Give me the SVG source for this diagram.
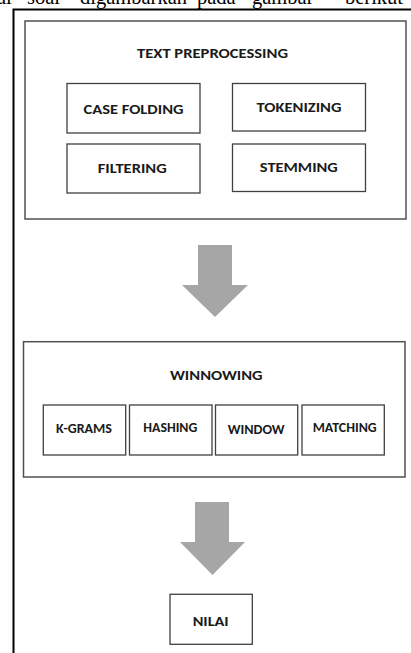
<svg xmlns="http://www.w3.org/2000/svg" width="411" height="653" viewBox="0 0 411 653">
<style>
.page{font-family:"Liberation Serif","Times New Roman",serif;font-size:20.5px;fill:#000}
.box{fill:#fff;stroke:#404040;stroke-width:1.3}
.group{fill:#fff;stroke:#505050;stroke-width:1.5}
.lbl{font-family:Carlito,"Open Sans","Liberation Sans",sans-serif;font-weight:bold;font-size:13px;fill:#1a1a1a;text-anchor:middle}
.title{font-size:14px}
.arrow{fill:#a6a6a6;stroke:none}
</style>
<rect x="0" y="0" width="411" height="653" fill="#fff"/>
<g id="page-text">
<text class="page" y="4"><tspan x="-3">al</tspan><tspan x="27">soal</tspan><tspan x="80">digambarkan</tspan><tspan x="197">pada</tspan><tspan x="252">gambar</tspan><tspan x="345">berikut</tspan></text>
</g>
<path id="frame" d="M13.5,653 V9.5 H411" fill="none" stroke="#000" stroke-width="2"/>
<g id="text-preprocessing">
<rect class="group" x="25" y="21" width="381" height="198"/>
<text class="lbl title" x="212.5" y="58" textLength="151" lengthAdjust="spacingAndGlyphs">TEXT PREPROCESSING</text>
</g>
<g id="case-folding">
<rect class="box" x="67" y="83.5" width="133" height="49.5"/>
<text class="lbl" x="133.5" y="114.3" textLength="100" lengthAdjust="spacingAndGlyphs">CASE FOLDING</text>
</g>
<g id="tokenizing">
<rect class="box" x="232.5" y="83.5" width="133" height="47.5"/>
<text class="lbl" x="299" y="112.3" textLength="85" lengthAdjust="spacingAndGlyphs">TOKENIZING</text>
</g>
<g id="filtering">
<rect class="box" x="67" y="144" width="133" height="49"/>
<text class="lbl" x="132.2" y="173.3" textLength="69" lengthAdjust="spacingAndGlyphs">FILTERING</text>
</g>
<g id="stemming">
<rect class="box" x="232.5" y="144" width="133" height="47.5"/>
<text class="lbl" x="298.8" y="171.7" textLength="78" lengthAdjust="spacingAndGlyphs">STEMMING</text>
</g>
<g id="winnowing">
<rect class="group" x="23.5" y="341.7" width="381.5" height="135.3"/>
<text class="lbl title" x="216.3" y="380" textLength="92.7" lengthAdjust="spacingAndGlyphs">WINNOWING</text>
</g>
<g id="k-grams">
<rect class="box" x="43.3" y="405" width="82.4" height="50"/>
<text class="lbl" x="84" y="433.3" textLength="56" lengthAdjust="spacingAndGlyphs">K-GRAMS</text>
</g>
<g id="hashing">
<rect class="box" x="129.5" y="405" width="82.5" height="50"/>
<text class="lbl" x="170.3" y="431.7" textLength="54" lengthAdjust="spacingAndGlyphs">HASHING</text>
</g>
<g id="window">
<rect class="box" x="215.5" y="405" width="82.2" height="50"/>
<text class="lbl" x="256.2" y="433.5" textLength="57" lengthAdjust="spacingAndGlyphs">WINDOW</text>
</g>
<g id="matching">
<rect class="box" x="302" y="405" width="82.3" height="50"/>
<text class="lbl" x="344.7" y="431.7" textLength="64" lengthAdjust="spacingAndGlyphs">MATCHING</text>
</g>
<g id="nilai">
<rect class="box" x="170" y="594.3" width="82.3" height="50"/>
<text class="lbl" x="210.7" y="625.6" textLength="36" lengthAdjust="spacingAndGlyphs">NILAI</text>
</g>
<g id="connectors">
<polygon class="arrow" points="198,245 232,245 232,285 248,285 215,317 182,285 198,285"/>
<polygon class="arrow" points="195,502 229,502 229,542 245,542 212.5,575 180,542 195,542"/>
</g>
</svg>
